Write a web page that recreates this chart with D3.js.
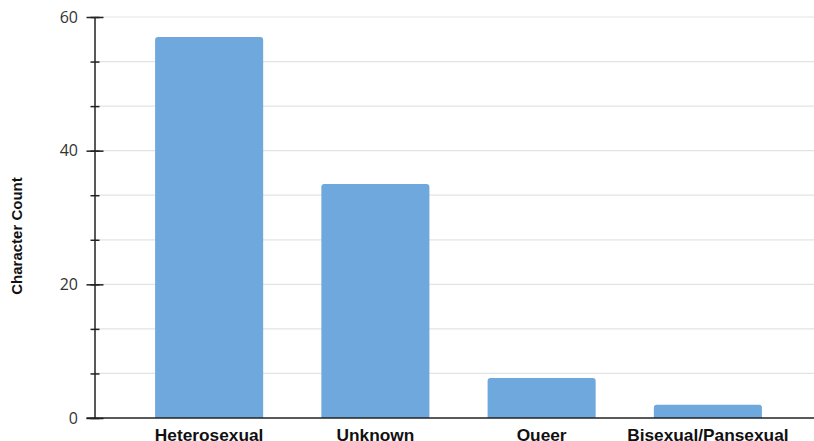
<!DOCTYPE html>
<html>
<head>
<meta charset="utf-8">
<script src="https://cdn.jsdelivr.net/npm/d3@7/dist/d3.min.js"></script>
<style>
  html, body { margin: 0; padding: 0; background: #fff; }
  svg { display: block; }
</style>
</head>
<body>
<svg id="chart" width="814" height="441"></svg>
<script>
// Character counts by orientation
const categories = ["Heterosexual", "Unknown", "Queer", "Bisexual/Pansexual"];
const counts = [57, 35, 6, 2];
const majorTicks = [0, 20, 40, 60];
const minorTicks = [0, 20 / 3, 40 / 3, 20, 80 / 3, 100 / 3, 40, 140 / 3, 160 / 3, 60];
const yTitle = "Character Count";

(function () {
const svg = d3.select("#chart");
const axisX = 95, plotTop = 17, plotBottom = 418, plotRight = 814;

const y = d3.scaleLinear().domain([0, 60]).range([plotBottom, plotTop]);
const x = d3.scaleBand().domain(categories).range([126, 791])
  .paddingInner(0.35).paddingOuter(0.175);

// gridlines
svg.append("g").selectAll("line").data(minorTicks.filter(d => d > 0)).join("line")
  .attr("x1", axisX).attr("x2", plotRight)
  .attr("y1", d => y(d)).attr("y2", d => y(d))
  .attr("stroke", "#e3e3e3").attr("stroke-width", 1.2);

// bars with rounded top corners
const r = 3;
svg.append("g").selectAll("path").data(categories).join("path")
  .attr("d", (c, i) => {
    const x0 = x(c), x1 = x0 + x.bandwidth();
    const yt = y(counts[i]), yb = y(0);
    return `M${x0},${yb}V${yt + r}Q${x0},${yt} ${x0 + r},${yt}H${x1 - r}Q${x1},${yt} ${x1},${yt + r}V${yb}Z`;
  })
  .attr("fill", "#6fa8dc");

// y axis: minor ticks
const yAxisMinor = d3.axisLeft(y).tickValues(minorTicks).tickSize(4).tickFormat("");
svg.append("g").attr("transform", `translate(${axisX},0)`).call(yAxisMinor)
  .call(g => g.select(".domain").remove())
  .call(g => g.selectAll(".tick line").attr("x2", 4.5).attr("x1", -4.5).attr("stroke", "#222").attr("stroke-width", 1.5));

// y axis: major ticks and labels
const yAxis = d3.axisLeft(y).tickValues(majorTicks).tickSize(8).tickPadding(9);
svg.append("g").attr("transform", `translate(${axisX},0)`).call(yAxis)
  .call(g => g.select(".domain").attr("d", `M0,${plotTop}V${plotBottom}`).attr("stroke", "#222").attr("stroke-width", 1.5))
  .call(g => g.selectAll(".tick line").attr("x1", -8.5).attr("x2", 8.5).attr("stroke", "#222").attr("stroke-width", 1.5))
  .call(g => g.selectAll(".tick text")
    .attr("font-family", "'Open Sans', sans-serif").attr("font-size", 16).attr("fill", "#333"));

// baseline
svg.append("line").attr("x1", axisX - 8.5).attr("x2", plotRight).attr("y1", plotBottom).attr("y2", plotBottom)
  .attr("stroke", "#222").attr("stroke-width", 1.5);

// category labels
svg.append("g").selectAll("text").data(categories).join("text")
  .attr("x", c => x(c) + x.bandwidth() / 2).attr("y", 441)
  .attr("text-anchor", "middle")
  .attr("font-family", "'Liberation Sans', Arial, sans-serif").attr("font-weight", "bold")
  .attr("font-size", 17.3).attr("fill", "#111")
  .text(c => c);

// y axis title
svg.append("text")
  .attr("transform", `translate(22,236) rotate(-90)`)
  .attr("text-anchor", "middle")
  .attr("font-family", "'Liberation Sans', Arial, sans-serif").attr("font-weight", "bold")
  .attr("font-size", 15).attr("fill", "#111")
  .text(yTitle);
})();
</script>
</body>
</html>
